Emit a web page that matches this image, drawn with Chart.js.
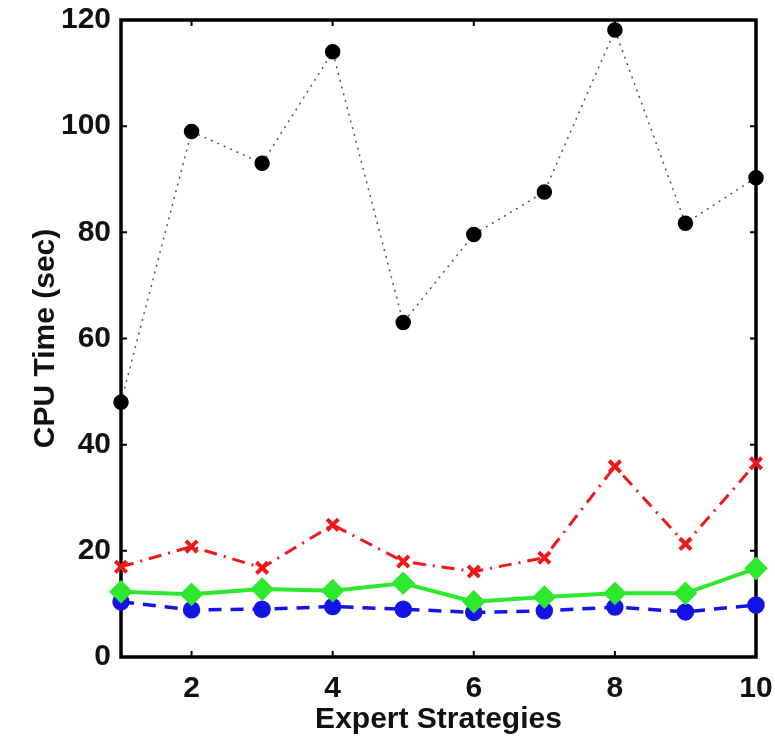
<!DOCTYPE html>
<html>
<head>
<meta charset="utf-8">
<script src="https://cdn.jsdelivr.net/npm/chart.js@4"></script>
<style>
  html, body { margin: 0; padding: 0; background: #fff; }
  #wrap { width: 775px; height: 740px; }
</style>
</head>
<body>
<div id="wrap"><canvas id="cpuChart" width="775" height="740"></canvas></div>
<script>
//DATA
const strategies = [1, 2, 3, 4, 5, 6, 7, 8, 9, 10];
const blackSeries = [48, 99, 93, 114, 63, 79.6, 87.6, 118.1, 81.7, 90.3];
const redSeries   = [17.0, 20.8, 16.8, 24.9, 18.0, 16.1, 18.7, 35.9, 21.3, 36.5];
const greenSeries = [12.3, 11.8, 12.8, 12.5, 13.9, 10.4, 11.3, 12.0, 12.0, 16.7];
const blueSeries  = [10.4, 8.9, 9.0, 9.5, 9.0, 8.4, 8.7, 9.4, 8.5, 9.8];
const xTicks = [2, 4, 6, 8, 10];
const yTicks = [0, 20, 40, 60, 80, 100, 120];

const pts = arr => strategies.map((x, i) => ({ x, y: arr[i] }));
const FONT = "'Liberation Sans', Arial, Helvetica, sans-serif";

//BOX + INWARD TICKS (matlab style)
const boxPlugin = {
  id: 'box',
  beforeDatasetsDraw(chart) {
    const { ctx, chartArea: a, scales: { x, y } } = chart;
    ctx.save();
    ctx.strokeStyle = '#000';
    ctx.lineWidth = 2;
    const t = 6;
    xTicks.forEach(v => {
      const px = x.getPixelForValue(v);
      ctx.beginPath();
      ctx.moveTo(px, a.bottom); ctx.lineTo(px, a.bottom - t);
      ctx.moveTo(px, a.top); ctx.lineTo(px, a.top + t);
      ctx.stroke();
    });
    yTicks.forEach(v => {
      const py = y.getPixelForValue(v);
      ctx.beginPath();
      ctx.moveTo(a.left, py); ctx.lineTo(a.left + t, py);
      ctx.moveTo(a.right, py); ctx.lineTo(a.right - t, py);
      ctx.stroke();
    });
    ctx.lineWidth = 3.5;
    ctx.strokeRect(a.left, a.top, a.right - a.left, a.bottom - a.top);
    ctx.restore();
  }
};

new Chart(document.getElementById('cpuChart'), {
  type: 'line',
  data: {
    datasets: [
      { data: pts(blackSeries), borderColor: '#555', borderWidth: 1.5, borderDash: [2, 5],
        pointStyle: 'circle', pointRadius: 7, pointBackgroundColor: '#000', pointBorderColor: '#000', clip: false },
      { data: pts(redSeries), borderColor: '#f01818', borderWidth: 3, borderDash: [13, 7, 2, 7],
        pointStyle: 'crossRot', pointRadius: 8, pointBorderWidth: 4, pointBorderColor: '#f01818', clip: false },
      { data: pts(greenSeries), borderColor: '#2ee82e', borderWidth: 4,
        pointStyle: 'rectRot', pointRadius: 9, pointBackgroundColor: '#2ee82e', pointBorderColor: '#2ee82e', clip: false },
      { data: pts(blueSeries), borderColor: '#1414e6', borderWidth: 3.5, borderDash: [13, 9],
        pointStyle: 'circle', pointRadius: 7, pointBackgroundColor: '#1414e6', pointBorderColor: '#1414e6', clip: false }
    ]
  },
  options: {
    responsive: false,
    animation: false,
    events: [],
    layout: { padding: { top: 20, right: 19, bottom: 0, left: 0 } },
    plugins: { legend: { display: false }, tooltip: { enabled: false } },
    elements: { line: { tension: 0, fill: false } },
    scales: {
      x: {
        type: 'linear', min: 1, max: 10,
        afterBuildTicks: s => { s.ticks = xTicks.map(v => ({ value: v })); },
        afterFit: s => { s.height = 83; s.paddingLeft = 0; s.paddingRight = 0; },
        grid: { display: false, drawTicks: false },
        border: { display: false },
        ticks: { color: '#111', padding: 14, font: { family: FONT, size: 30, weight: 'bold' } },
        title: { display: true, text: 'Expert Strategies', color: '#111',
          padding: { top: 0, bottom: 2 }, font: { family: FONT, size: 30, weight: 'bold' } }
      },
      y: {
        type: 'linear', min: 0, max: 120,
        afterBuildTicks: s => { s.ticks = yTicks.map(v => ({ value: v })); },
        afterFit: s => { s.width = 121; s.paddingTop = 0; s.paddingBottom = 0; },
        grid: { display: false, drawTicks: false },
        border: { display: false },
        ticks: { color: '#111', padding: 10, font: { family: FONT, size: 30, weight: 'bold' } },
        title: { display: true, text: 'CPU Time (sec)', color: '#111',
          padding: { top: 28, bottom: 0 }, font: { family: FONT, size: 30, weight: 'bold' } }
      }
    }
  },
  plugins: [boxPlugin]
});
</script>
</body>
</html>
